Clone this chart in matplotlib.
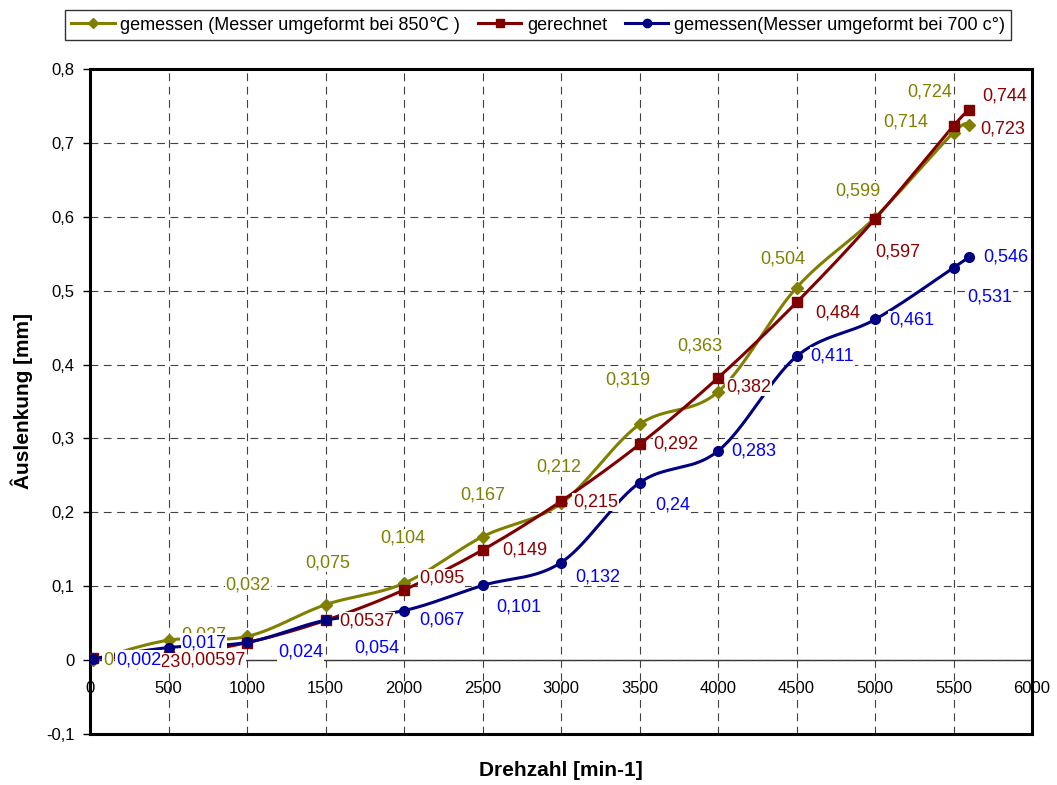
import numpy as np
import matplotlib
matplotlib.use("Agg")
import matplotlib.pyplot as plt
from matplotlib.lines import Line2D
from matplotlib.ticker import FuncFormatter

plt.rcParams['font.family'] = ['Liberation Sans', 'DejaVu Sans']

# Data
drehzahl = [20, 500, 1000, 1500, 2000, 2500, 3000, 3500, 4000, 4500, 5000, 5500, 5600]
gemessen_850 = [0, 0.027, 0.032, 0.075, 0.104, 0.167, 0.212, 0.319, 0.363, 0.504, 0.599, 0.714, 0.724]
gerechnet = [0.00237, 0.00597, 0.0237, 0.0537, 0.095, 0.149, 0.215, 0.292, 0.382, 0.484, 0.597, 0.723, 0.744]
gemessen_700 = [0.002, 0.017, 0.024, 0.054, 0.067, 0.101, 0.132, 0.24, 0.283, 0.411, 0.461, 0.531, 0.546]

x_ticks = list(range(0, 6001, 500))
y_ticks = [-0.1, 0, 0.1, 0.2, 0.3, 0.4, 0.5, 0.6, 0.7, 0.8]

# label placement (pixels from the point), None = label not shown
off_850 = [(15, 0), (35, 5), (1, 51), (2, 42), (-1, 45), (0, 42), (-2, 36), (-12, 44),
           (-18, 46), (-14, 29), (-17, 27), (-48, 11), (-40, 33)]
off_ger = [(32, -4), (12, -4), None, (14, -1), (15, 12), (20, 0), (12, -1), (14, 0),
           (8, -9), (19, -11), (0, -33), (27, -3), (13, 14)]
off_700 = [(23, -1), (13, 5), (31, -10), (29, -28), (15, -9), (14, -22), (14, -14), (16, -22),
           (13, 0), (14, 0), (14, -1), (14, -29), (14, 0)]


def smooth(xs, ys, n=40):
    # Excel-like smoothed line (Bezier through the points)
    P = np.column_stack([xs, ys]).astype(float)
    out = []
    t = np.linspace(0, 1, n)[:, None]
    for i in range(len(P) - 1):
        p0 = P[i - 1] if i > 0 else P[i]
        p3 = P[i + 2] if i + 2 < len(P) else P[i + 1]
        c1 = P[i] + (P[i + 1] - p0) / 6
        c2 = P[i + 1] - (p3 - P[i]) / 6
        seg = (1 - t) ** 3 * P[i] + 3 * (1 - t) ** 2 * t * c1 + 3 * (1 - t) * t ** 2 * c2 + t ** 3 * P[i + 1]
        out.append(seg)
    s = np.vstack(out)
    return s[:, 0], s[:, 1]


def komma(v):
    return "{:g}".format(round(v, 5)).replace(".", ",")


fig = plt.figure(figsize=(10.57, 7.85), dpi=100)
ax = fig.add_axes([90 / 1057, 51 / 785, 942 / 1057, 665 / 785])

series = [
    (gemessen_850, "#808000", "#808000", "D", 6.5, off_850, "center",
     "gemessen (Messer umgeformt bei 850\u2103 )"),
    (gerechnet, "#800000", "#8b0000", "s", 7, off_ger, "left", "gerechnet"),
    (gemessen_700, "#000080", "#0000ff", "o", 7, off_700, "left",
     "gemessen(Messer umgeformt bei 700 c\u00b0)"),
]

handles = []
for k, (vals, col, lcol, mk, ms, offs, ha, name) in enumerate(series):
    sx, sy = smooth(drehzahl, vals)
    ax.plot(sx, sy, color=col, lw=2.2, zorder=3 + k * 0.1, solid_capstyle="round")
    ax.plot(drehzahl, vals, ls="none", marker=mk, ms=ms, color=col, zorder=3.5 + k * 0.1)
    for xv, yv, o in zip(drehzahl, vals, offs):
        if o is None:
            continue
        ax.annotate(komma(yv), (xv, yv), xytext=o, textcoords="offset pixels",
                    ha=ha, va="center", fontsize=13, color=lcol, zorder=6 + k,
                    bbox=dict(fc="white", ec="none", pad=0.5))
    handles.append(Line2D([], [], color=col, lw=2.2, marker=mk, ms=ms - 1, label=name))

ax.set_xlim(0, 6000)
ax.set_ylim(-0.1, 0.8)
ax.set_xticks(x_ticks)
ax.set_yticks(y_ticks)
ax.tick_params(axis="x", length=0, labelbottom=False)
ax.tick_params(axis="y", direction="out", length=5, width=1, pad=6, labelsize=12)
ax.yaxis.set_major_formatter(FuncFormatter(lambda v, p: komma(v)))
ax.grid(True, color="#404040", lw=0.8, linestyle=(0, (7, 5)))
ax.set_axisbelow(True)
for sp in ax.spines.values():
    sp.set_linewidth(2.2)
    sp.set_color("black")

# x axis crossing at y = 0
sec = ax.secondary_xaxis(0.1 / 0.9)
sec.set_xticks(x_ticks)
sec.set_xticklabels([str(v) for v in x_ticks])
sec.tick_params(length=0, pad=15, labelsize=12)
sec.spines["bottom"].set_linewidth(1)
sec.spines["bottom"].set_color("#333333")

fig.text(561 / 1057, 1 - 770 / 785, "Drehzahl [min-1]", ha="center", va="center",
         fontsize=15, fontweight="bold")
fig.text(22 / 1057, 1 - 401 / 785, "\u00c2uslenkung [mm]", ha="center", va="center",
         rotation=90, fontsize=15, fontweight="bold")

leg = fig.legend(handles=handles, loc="center", bbox_to_anchor=(538 / 1057, 1 - 25 / 785),
                 ncol=3, fontsize=13, frameon=True, fancybox=False, edgecolor="black",
                 handlelength=2.4, handletextpad=0.3, columnspacing=1.0,
                 borderpad=0.35, borderaxespad=0)
leg.get_frame().set_linewidth(1)

fig.savefig("out.png", dpi=100)
plt.close()
